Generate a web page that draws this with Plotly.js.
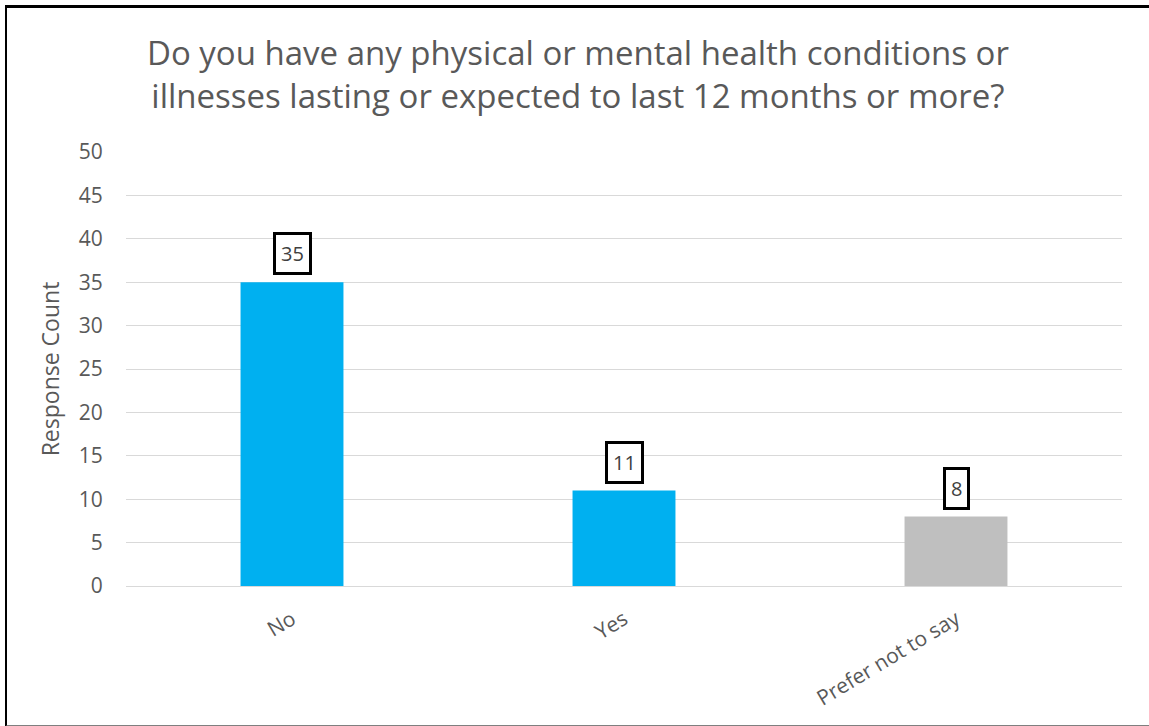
<!DOCTYPE html>
<html>
<head>
<meta charset="utf-8">
<script src="https://cdn.plot.ly/plotly-3.0.1.min.js"></script>
<style>
html,body{margin:0;padding:0;background:#fff;}
#chart{position:absolute;left:0;top:0;width:1149px;height:726px;}
#frame{position:absolute;left:5px;top:5px;width:1150px;height:717px;border-left:2px solid #000;border-top:3px solid #000;border-bottom:2px solid #7f7f7f;pointer-events:none;}
</style>
</head>
<body>
<div id="chart"></div>
<div id="frame"></div>
<script>
const categories = ["No", "Yes", "Prefer not to say"];
const counts = [35, 11, 8];
const barColors = ["#00B0F0", "#00B0F0", "#BFBFBF"];
const yTicks = [0, 5, 10, 15, 20, 25, 30, 35, 40, 45, 50];

const font = "Open Sans, Liberation Sans, sans-serif";

const trace = {
  type: "bar",
  x: categories,
  y: counts,
  marker: {color: barColors},
  hoverinfo: "none"
};

const annotations = categories.map((c, i) => ({
  x: c, y: counts[i], xref: "x", yref: "y",
  text: String(counts[i]),
  showarrow: false,
  yanchor: "bottom",
  yshift: 7,
  font: {family: font, size: 20, color: "#404040"},
  bgcolor: "#fff",
  bordercolor: "#000",
  borderwidth: 3,
  borderpad: 5
}));

const layout = {
  width: 1149, height: 726,
  margin: {l: 126, r: 27, t: 152, b: 140},
  paper_bgcolor: "#fff", plot_bgcolor: "#fff",
  title: {
    text: "Do you have any physical or mental health conditions or<br>illnesses lasting or expected to last 12 months or more?",
    font: {family: font, size: 33, color: "#595959"},
    xref: "container", yref: "container",
    x: 0.503, xanchor: "center", y: 0.91, yanchor: "middle"
  },
  bargap: 0.69,
  showlegend: false,
  xaxis: {
    tickangle: -31,
    tickfont: {family: font, size: 21, color: "#595959"},
    showline: true, linecolor: "#D9D9D9", linewidth: 1,
    ticks: "outside", ticklen: 12, tickcolor: "rgba(0,0,0,0)"
  },
  yaxis: {
    range: [0, 50], tickvals: yTicks,
    tickfont: {family: font, size: 21, color: "#595959"},
    gridcolor: "#D9D9D9", gridwidth: 1,
    zeroline: false, showline: false,
    ticks: "outside", ticklen: 18, tickcolor: "rgba(0,0,0,0)",
    title: {text: "Response Count", font: {family: font, size: 23, color: "#595959"}, standoff: 12}
  },
  annotations: annotations
};

Plotly.newPlot("chart", [trace], layout, {displayModeBar: false, staticPlot: true});
</script>
</body>
</html>
